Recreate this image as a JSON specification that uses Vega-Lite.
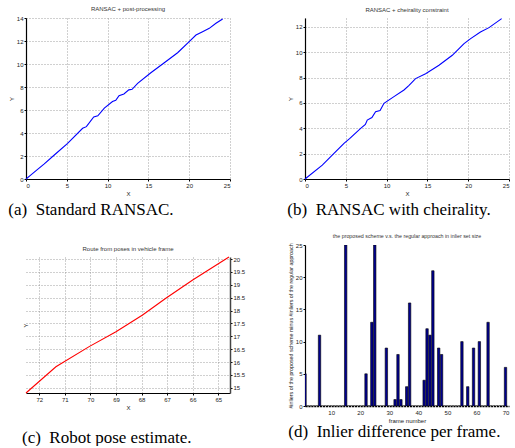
{
  "$schema": "https://vega.github.io/schema/vega-lite/v6.json",
  "padding": {"left": 8, "top": 6, "right": 0, "bottom": 0},
  "background": "white",
  "datasets": {
    "post": [
      {"x": 0, "y": 0}, {"x": 0.5, "y": 0.3}, {"x": 1.42, "y": 0.84}, {"x": 2.24, "y": 1.31}, {"x": 3.47, "y": 2.09},
      {"x": 5.1, "y": 3.1}, {"x": 6.94, "y": 4.41}, {"x": 7.4, "y": 4.55}, {"x": 8.3, "y": 5.4}, {"x": 8.8, "y": 5.5},
      {"x": 9.6, "y": 6.16}, {"x": 10.6, "y": 6.74}, {"x": 11.0, "y": 6.85}, {"x": 11.4, "y": 7.25}, {"x": 12.0, "y": 7.4},
      {"x": 12.6, "y": 7.75}, {"x": 13.0, "y": 7.8}, {"x": 13.68, "y": 8.31}, {"x": 15.3, "y": 9.24}, {"x": 16.95, "y": 10.11},
      {"x": 18.58, "y": 10.98}, {"x": 20.0, "y": 11.94}, {"x": 20.83, "y": 12.52}, {"x": 21.64, "y": 12.81}, {"x": 22.46, "y": 13.1},
      {"x": 23.28, "y": 13.54}, {"x": 24.1, "y": 13.92}
    ],
    "cheir": [
      {"x": 0, "y": 0}, {"x": 2.12, "y": 1.1}, {"x": 3.55, "y": 2.02}, {"x": 4.78, "y": 2.81}, {"x": 5.5, "y": 3.2},
      {"x": 6.82, "y": 4.0}, {"x": 7.4, "y": 4.3}, {"x": 7.63, "y": 4.65}, {"x": 8.2, "y": 4.85}, {"x": 8.65, "y": 5.31},
      {"x": 9.2, "y": 5.4}, {"x": 9.68, "y": 5.97}, {"x": 10.9, "y": 6.5}, {"x": 12.13, "y": 7.02}, {"x": 12.75, "y": 7.39},
      {"x": 13.55, "y": 7.92}, {"x": 14.78, "y": 8.31}, {"x": 16.42, "y": 8.97}, {"x": 18.05, "y": 9.76}, {"x": 19.49, "y": 10.68},
      {"x": 20.3, "y": 11.07}, {"x": 21.5, "y": 11.6}, {"x": 22.55, "y": 11.94}, {"x": 24.1, "y": 12.65}
    ],
    "route": [
      {"x": 72.52, "y": 14.8}, {"x": 71.35, "y": 15.82}, {"x": 70.05, "y": 16.6}, {"x": 69.0, "y": 17.18},
      {"x": 67.96, "y": 17.83}, {"x": 67.05, "y": 18.48}, {"x": 66.0, "y": 19.19}, {"x": 64.58, "y": 20.08}
    ],
    "inliers": [
      {"frame": 1, "diff": 5}, {"frame": 2, "diff": 0}, {"frame": 3, "diff": 0}, {"frame": 4, "diff": 0}, {"frame": 5, "diff": 0},
      {"frame": 6, "diff": 11}, {"frame": 7, "diff": 0}, {"frame": 8, "diff": 0}, {"frame": 9, "diff": 0}, {"frame": 10, "diff": 0},
      {"frame": 11, "diff": 0}, {"frame": 12, "diff": 0}, {"frame": 13, "diff": 0}, {"frame": 14, "diff": 0}, {"frame": 15, "diff": 25},
      {"frame": 16, "diff": 0}, {"frame": 17, "diff": 0}, {"frame": 18, "diff": 0}, {"frame": 19, "diff": 0}, {"frame": 20, "diff": 0},
      {"frame": 21, "diff": 0}, {"frame": 22, "diff": 5}, {"frame": 23, "diff": 0}, {"frame": 24, "diff": 13}, {"frame": 25, "diff": 25},
      {"frame": 26, "diff": 0}, {"frame": 27, "diff": 0}, {"frame": 28, "diff": 0}, {"frame": 29, "diff": 9}, {"frame": 30, "diff": 0},
      {"frame": 31, "diff": 0}, {"frame": 32, "diff": 1}, {"frame": 33, "diff": 8}, {"frame": 34, "diff": 1}, {"frame": 35, "diff": 0},
      {"frame": 36, "diff": 3}, {"frame": 37, "diff": 16}, {"frame": 38, "diff": 0}, {"frame": 39, "diff": 0}, {"frame": 40, "diff": 0},
      {"frame": 41, "diff": 0}, {"frame": 42, "diff": 4}, {"frame": 43, "diff": 12}, {"frame": 44, "diff": 11}, {"frame": 45, "diff": 21},
      {"frame": 46, "diff": 0}, {"frame": 47, "diff": 9}, {"frame": 48, "diff": 8}, {"frame": 49, "diff": 0}, {"frame": 50, "diff": 0},
      {"frame": 51, "diff": 0}, {"frame": 52, "diff": 0}, {"frame": 53, "diff": 0}, {"frame": 54, "diff": 0}, {"frame": 55, "diff": 10},
      {"frame": 56, "diff": 0}, {"frame": 57, "diff": 3}, {"frame": 58, "diff": 0}, {"frame": 59, "diff": 9}, {"frame": 60, "diff": 0},
      {"frame": 61, "diff": 10}, {"frame": 62, "diff": 0}, {"frame": 63, "diff": 0}, {"frame": 64, "diff": 13}, {"frame": 65, "diff": 0},
      {"frame": 66, "diff": 0}, {"frame": 67, "diff": 0}, {"frame": 68, "diff": 0}, {"frame": 69, "diff": 0}, {"frame": 70, "diff": 6}
    ]
  },
  "hconcat": [
    {
      "spacing": 27,
      "vconcat": [
        {
          "title": {"text": "(a)\u2002Standard RANSAC.", "orient": "bottom", "font": "Liberation Serif", "fontSize": 17, "fontWeight": "normal", "color": "#000", "offset": 6},
          "vconcat": [
            {
              "width": 204, "height": 161,
              "title": {"text": "RANSAC + post-processing", "font": "Liberation Sans", "fontSize": 6, "fontWeight": "normal", "color": "#333", "offset": 3},
              "data": {"name": "post"},
              "mark": {"type": "line", "color": "#0000ff", "strokeWidth": 1.1},
              "encoding": {
                "x": {"field": "x", "type": "quantitative", "scale": {"domain": [0, 25], "nice": false}, "axis": {"values": [0, 5, 10, 15, 20, 25], "title": "X"}},
                "y": {"field": "y", "type": "quantitative", "scale": {"domain": [0, 14], "nice": false}, "axis": {"values": [0, 2, 4, 6, 8, 10, 12, 14], "title": "Y"}}
              }
            }
          ]
        },
        {
          "title": {"text": "(c)\u2002Robot pose estimate.", "orient": "bottom", "font": "Liberation Serif", "fontSize": 17, "fontWeight": "normal", "color": "#000", "offset": 20},
          "vconcat": [
            {
              "width": 204, "height": 136,
              "title": {"text": "Route from poses in vehicle frame", "font": "Liberation Sans", "fontSize": 6, "fontWeight": "normal", "color": "#333", "offset": 3},
              "data": {"name": "route"},
              "encoding": {
                "x": {"field": "x", "type": "quantitative", "scale": {"domain": [64.54, 72.52], "reverse": true, "nice": false, "zero": false}, "axis": {"values": [65, 66, 67, 68, 69, 70, 71, 72], "title": "X", "labelOverlap": false}}
              },
              "layer": [
                {
                  "mark": {"type": "line", "color": "#ff0000", "strokeWidth": 1.1},
                  "encoding": {
                    "y": {"field": "y", "type": "quantitative", "scale": {"domain": [14.8, 20.08], "nice": false, "zero": false}, "axis": {"orient": "right", "values": [15, 15.5, 16, 16.5, 17, 17.5, 18, 18.5, 19, 19.5, 20], "format": "~g", "title": null, "labelOverlap": false, "domainWidth": 1.5, "domainColor": "#444"}}
                  }
                },
                {
                  "mark": {"type": "line", "opacity": 0},
                  "encoding": {
                    "y": {"field": "y", "type": "quantitative", "axis": {"orient": "left", "title": "Y", "labels": false, "ticks": false, "domain": false, "grid": false, "titlePadding": -2}}
                  }
                }
              ],
              "resolve": {"axis": {"y": "independent"}}
            }
          ]
        }
      ]
    },
    {
      "spacing": 15,
      "vconcat": [
        {
          "title": {"text": "(b)\u2002RANSAC with cheirality.", "orient": "bottom", "font": "Liberation Serif", "fontSize": 17, "fontWeight": "normal", "color": "#000", "offset": 6},
          "vconcat": [
            {
              "width": 204, "height": 161,
              "title": {"text": "RANSAC + cheirality constraint", "font": "Liberation Sans", "fontSize": 6, "fontWeight": "normal", "color": "#333", "offset": 3},
              "data": {"name": "cheir"},
              "mark": {"type": "line", "color": "#0000ff", "strokeWidth": 1.1},
              "encoding": {
                "x": {"field": "x", "type": "quantitative", "scale": {"domain": [0, 25], "nice": false}, "axis": {"values": [0, 5, 10, 15, 20, 25], "title": "X"}},
                "y": {"field": "y", "type": "quantitative", "scale": {"domain": [0, 12.7], "nice": false}, "axis": {"values": [0, 2, 4, 6, 8, 10, 12], "title": "Y"}}
              }
            }
          ]
        },
        {
          "title": {"text": "(d)\u2002Inlier difference per frame.", "orient": "bottom", "font": "Liberation Serif", "fontSize": 17, "fontWeight": "normal", "color": "#000", "offset": 1},
          "vconcat": [
            {
              "width": 204, "height": 161,
              "title": {"text": "the proposed scheme v.s. the regular approach in inlier set size", "font": "Liberation Sans", "fontSize": 5.3, "fontWeight": "normal", "color": "#333", "offset": 3},
              "data": {"name": "inliers"},
              "mark": {"type": "bar", "size": 2.4, "color": "#00008f", "stroke": "#000", "strokeWidth": 0.6, "clip": true},
              "encoding": {
                "x": {"field": "frame", "type": "quantitative", "scale": {"domain": [1, 71.2], "nice": false, "padding": 0}, "axis": {"values": [10, 20, 30, 40, 50, 60, 70], "title": "frame number", "grid": false, "domain": true, "domainWidth": 1.5, "domainDash": [2.2, 0.7], "domainColor": "#000", "ticks": false, "labelPadding": 3}},
                "y": {"field": "diff", "type": "quantitative", "scale": {"domain": [0, 25], "nice": false, "padding": 0}, "axis": {"values": [0, 5, 10, 15, 20, 25], "title": "#inliers of the proposed scheme minus #inliers of the regular approach", "titleFontSize": 5.3, "grid": false}}
              }
            }
          ]
        }
      ]
    }
  ],
  "spacing": 42,
  "config": {
    "view": {"stroke": null},
    "axis": {
      "labelFont": "Liberation Sans", "labelFontSize": 6, "labelColor": "#222",
      "titleFont": "Liberation Sans", "titleFontSize": 6, "titleFontWeight": "normal", "titleColor": "#222",
      "domainColor": "#000", "domainWidth": 1.2, "tickColor": "#000", "tickSize": 2,
      "grid": true, "gridColor": "#888", "gridDash": [1, 2], "gridOpacity": 1, "gridWidth": 0.8,
      "labelPadding": 1, "titlePadding": 2
    }
  }
}
